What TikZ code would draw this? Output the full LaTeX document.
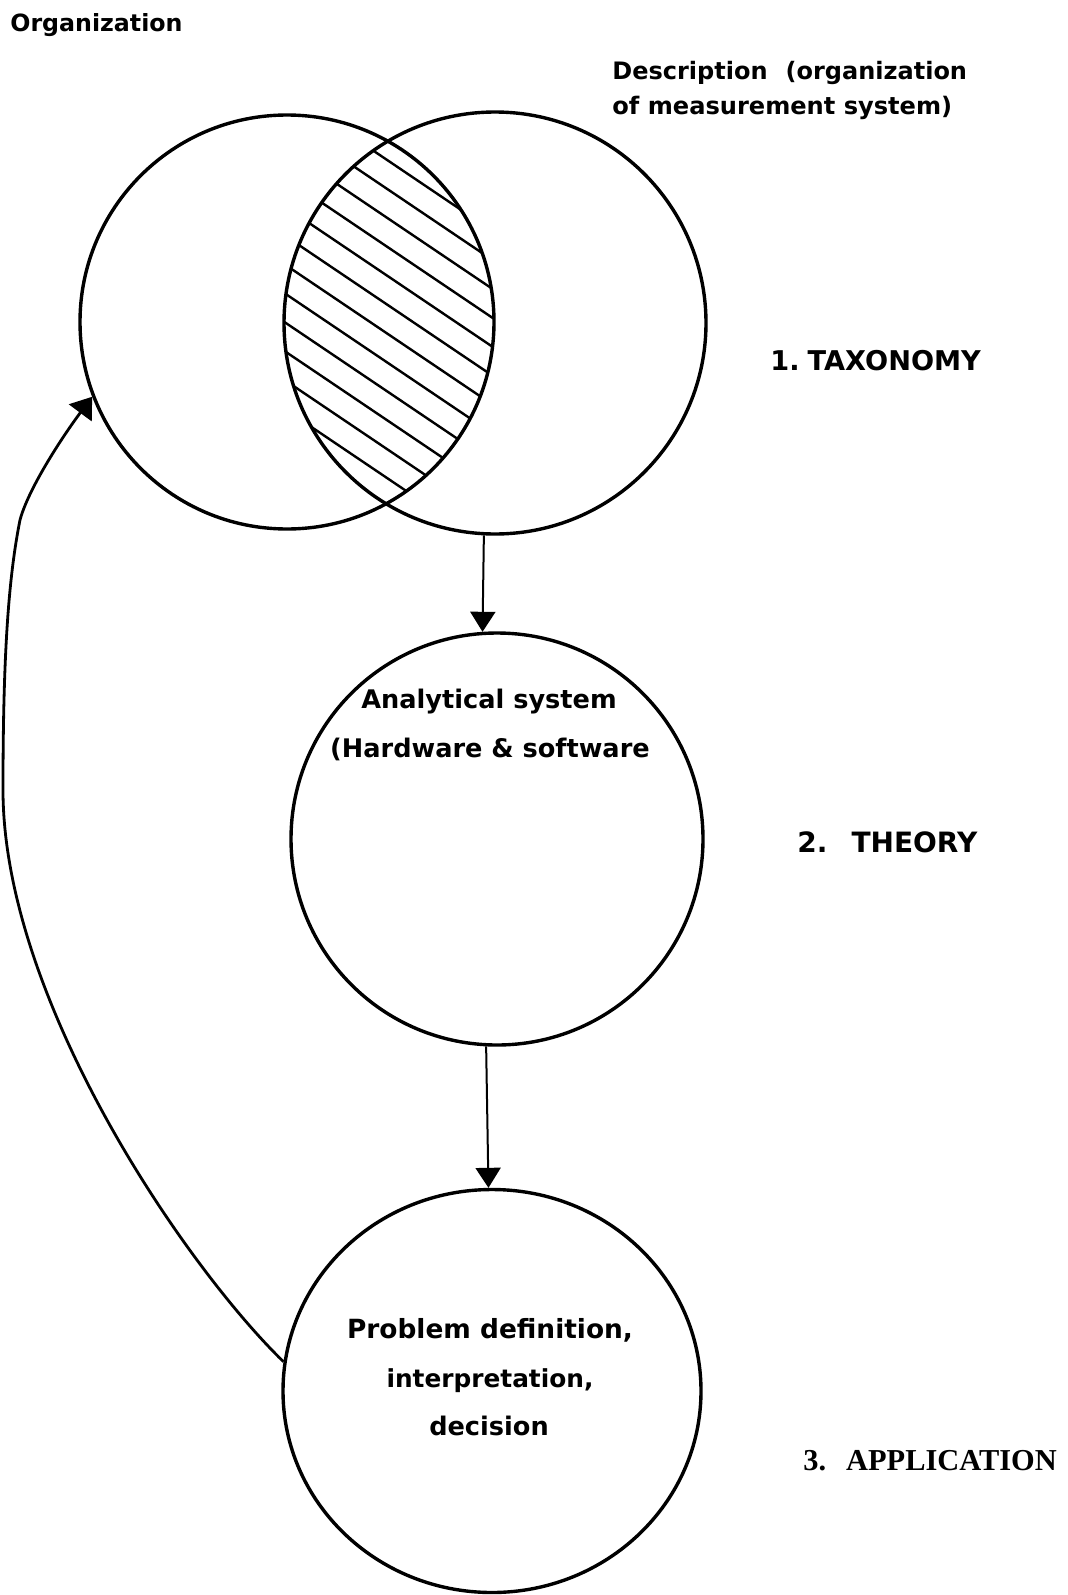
\documentclass[tikz,border=0pt]{standalone}
\usepackage{fontspec}
\setmainfont{DejaVu Sans}
\newfontfamily\serifb{Liberation Serif}
\usetikzlibrary{arrows.meta,shapes.geometric}
\begin{document}
\begin{tikzpicture}[x=0.5pt,y=-0.5pt,
  ring/.style={circle,draw,line width=1.7pt,inner sep=0pt},
  lbl/.style={anchor=base west,inner sep=0pt,font=\fontsize{12pt}{14pt}\selectfont\bfseries},
  inlbl/.style={anchor=base,inner sep=0pt,font=\fontsize{12.8pt}{14pt}\selectfont\bfseries},
  flow/.style={line width=1pt,-{Triangle[width=12.5pt,length=10pt]}},
  fb/.style={line width=1.4pt,-{Triangle[width=14pt,length=10pt]}},
  hatch/.style={line width=1.2pt}]
\useasboundingbox (0,0) rectangle (1067,1595);
% circles
\node[ring,minimum size=207pt] (org) at (287,322) {};
\node[ring,minimum size=211pt] (desc) at (495,323) {};
\node[ring,minimum size=206pt] (mid) at (497,839) {};
\node[ellipse,draw,line width=1.7pt,inner sep=0pt,minimum width=209pt,minimum height=201.5pt] (app) at (492,1391) {};
% hatching of the overlap
\begin{scope}
  \clip (org.center) circle[radius=103.5pt];
  \clip (desc.center) circle[radius=105.5pt];
  \foreach \c in {-84,-60,-36,-12,12,36,60,84,108,132,156,180}
    \draw[hatch] (141,{(\c+218.4)/0.83-168}) -- ++(498,336);
\end{scope}
% labels
\node[lbl,font=\fontsize{11.85pt}{14pt}\selectfont\bfseries] (t0) at (10,32) {Organization};
\node[lbl] (t1) at (612,80) {Description\hspace{9pt}(organization};
\node[lbl,font=\fontsize{12.05pt}{14pt}\selectfont\bfseries] (t2) at (612,115) {of measurement system)};
\node[lbl,font=\fontsize{13.6pt}{14pt}\selectfont\bfseries] (t3) at (770,370) {1.\hspace{4pt}TAXONOMY};
\node[lbl,font=\fontsize{14pt}{14pt}\selectfont\bfseries] (t4) at (797,852) {2.\hspace{12pt}THEORY};
\node[lbl,font=\fontsize{15.2pt}{16pt}\selectfont\serifb\bfseries] (t5) at (803,1470) {3.\hspace{10pt}APPLICATION};
\node[inlbl] (a1) at (489,708) {Analytical system};
\node[inlbl] (a2) at (490,757) {(Hardware \& software};
\node[inlbl,font=\fontsize{13.2pt}{14pt}\selectfont\bfseries] (p1) at (490,1338) {Problem definition,};
\node[inlbl,font=\fontsize{12.4pt}{14pt}\selectfont\bfseries] (p2) at (490,1387) {interpretation,};
\node[inlbl] (p3) at (489,1435) {decision};
% connectors
\draw[flow] (desc.267) -- (mid.94);
\draw[flow] (mid.267) -- (app.91);
\draw[fb] (app.172) .. controls (185,1266) and (3,1000) .. (3,790)
  .. controls (3,660) and (8,580) .. (20,520)
  .. controls (28,490) and (60,440) .. (org.201);
\end{tikzpicture}
\end{document}
